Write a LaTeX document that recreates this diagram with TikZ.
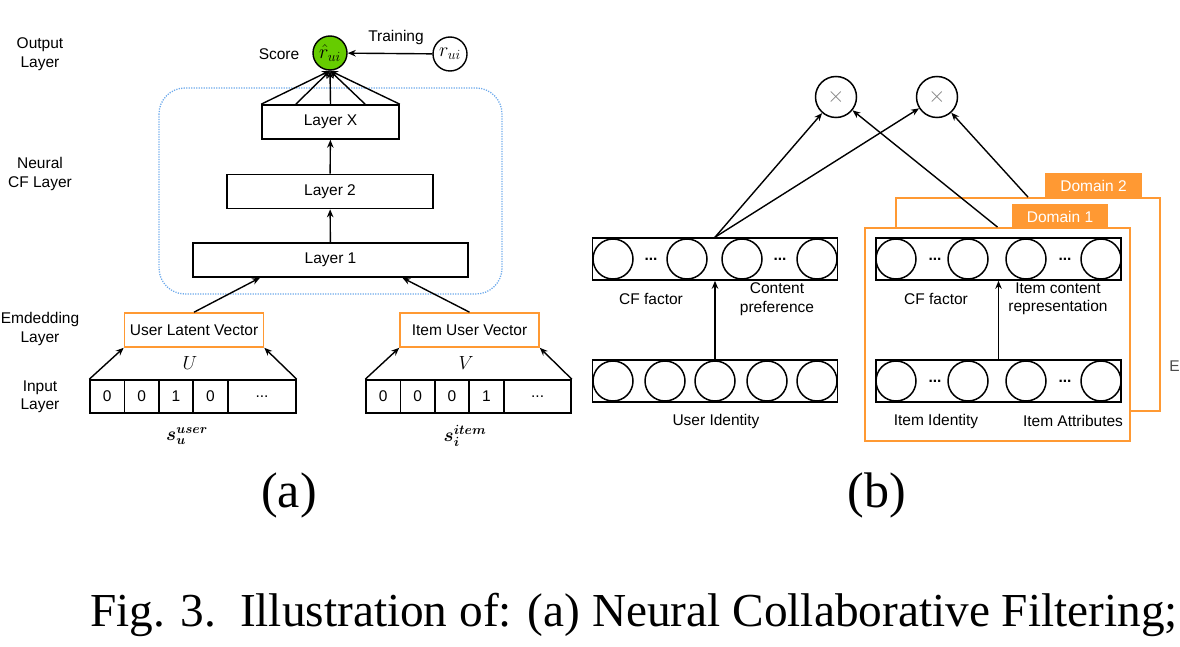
\RequirePackage{fix-cm}
\documentclass[tikz,border=0pt]{standalone}
\usepackage{bm}
\usepackage{fontspec}
\setmainfont{Liberation Sans}
\newfontfamily\capfont{Liberation Serif}
\usetikzlibrary{arrows.meta,calc}
\definecolor{grn}{RGB}{102,204,0}
\definecolor{org}{RGB}{255,153,51}
\definecolor{blu}{RGB}{110,170,235}

\begin{document}
\begin{tikzpicture}[x=1pt,y=-1pt,font=\fontsize{15.5}{18.5}\selectfont,
  every node/.style={inner sep=0pt},
  mathlbl/.style={font=\fontsize{19}{22}\selectfont},
  layer/.style={draw,line width=1.6pt,minimum height=34pt},
  embbox/.style={draw=org,line width=1.6pt,minimum width=139pt,minimum height=34pt},
  cell/.style={draw,line width=1.5pt,minimum width=34.4pt,minimum height=33pt},
  unit/.style={draw,circle,line width=1.5pt,minimum size=40pt},
  row/.style={draw,line width=1.6pt,minimum width=245pt,minimum height=42pt},
  dombox/.style={draw=org,fill=white,line width=1.8pt,minimum width=264pt,minimum height=213pt},
  tag/.style={fill=org,text=white,minimum width=97pt,minimum height=25pt},
  arr/.style={-{Stealth[length=8pt,width=6.5pt]},line width=1.4pt}]
  \useasboundingbox (0,0) rectangle (1180,647);

  % (a) neural collaborative filtering
  \node[align=center] (lbout) at (40,54) {Output\\Layer};
  \node[align=center] (lbncf) at (40,174) {Neural\\CF Layer};
  \node[align=center] (lbemb) at (40,329) {Emdedding\\Layer};
  \node[align=center] (lbin) at (40,397) {Input\\Layer};

  \draw[blu,line width=1.3pt,dash pattern=on 1.2pt off 1.3pt,rounded corners=26pt] (159,88) rectangle (502,294);

  \node[circle,draw,fill=grn,minimum size=34pt,line width=1.4pt,font=\fontsize{20}{24}\selectfont] (score) at (330,53) {$\hat{r}_{ui}$};
  \node[circle,draw,minimum size=34pt,line width=1.4pt,font=\fontsize{20}{24}\selectfont] (rui) at (450,54) {$r_{ui}$};
  \node (lbscore) at (279,54) {Score};
  \node (lbtrain) at (396,37) {Training};
  \draw[arr] (rui) -- (score);

  \node[layer,minimum width=137pt] (lx) at (330.5,122) {Layer X};
  \node[layer,minimum width=206pt] (l2) at (330,191.5) {Layer 2};
  \node[layer,minimum width=275pt] (l1) at (330.5,260) {Layer 1};
  \foreach \f in {0,0.25,0.5,0.75,1}
    \draw[arr] ($(lx.north west)!\f!(lx.north east)$) -- (score.south);
  \draw[arr] (l1) -- (l2);
  \draw[arr] (l2) -- (lx);

  \node[embbox] (ulat) at (194,330) {User Latent Vector};
  \node[embbox] (ilat) at (469.5,330) {Item User Vector};
  \draw[arr] (ulat.north) -- ($(l1.south west)!0.245!(l1.south east)$);
  \draw[arr] (ilat.north) -- ($(l1.south west)!0.76!(l1.south east)$);

  \foreach \v [count=\i] in {0,0,1,0}
    \node[cell] (u\i) at ({72.8+34.4*\i},396.5) {\v};
  \node[cell,minimum width=68pt] (udots) at (262,396.5) {...};
  \foreach \v [count=\i] in {0,0,0,1}
    \node[cell] (i\i) at ({348.8+34.4*\i},396.5) {\v};
  \node[cell,minimum width=67pt] (idots) at (537.6,396.5) {...};
  \draw[arr] (u1.north west) -- (ulat.south west);
  \draw[arr] (udots.north east) -- (ulat.south east);
  \draw[arr] (i1.north west) -- (ilat.south west);
  \draw[arr] (idots.north east) -- (ilat.south east);
  \node[mathlbl] (lbu) at (190,363) {$U$};
  \node[mathlbl] (lbv) at (466,363) {$V$};
  \node[mathlbl] (su) at (187,436) {$\bm{s_u^{user}}$};
  \node[mathlbl] (si) at (465,436) {$\bm{s_i^{item}}$};

  % (b) cross-domain
  \node[unit,minimum size=41pt,font=\fontsize{22}{26}\selectfont] (m1) at (836,97) {\textcolor{gray}{$\times$}};
  \node[unit,minimum size=41pt,font=\fontsize{22}{26}\selectfont] (m2) at (937,97) {\textcolor{gray}{$\times$}};

  \node[row] (utop) at (715,259) {};
  \foreach \x [count=\i] in {613,687,742,817}
    \node[unit] (ut\i) at (\x,259) {};
  \node (utd1) at (651,259) {\textbf{...}};
  \node (utd2) at (780,259) {\textbf{...}};
  \node[row] (ubot) at (715,381) {};
  \foreach \x [count=\i] in {613,665,715,767,817}
    \node[unit] (ub\i) at (\x,381) {};
  \draw[arr] (ubot) -- (utop);
  \node (lbcf1) at (651,299) {CF factor};
  \node[align=center] (lbcp) at (777,299) {Content\\preference};
  \node (lbuid) at (716,421) {User Identity};

  \node[dombox] (dom2) at (1028,304.5) {};
  \node[tag] (tag2) at (1093.5,185.5) {Domain 2};
  \node[dombox,minimum width=265pt] (dom1) at (997.5,334.5) {};
  \node[tag,minimum width=96pt] (tag1) at (1060,216.5) {Domain 1};

  \node[row] (itop) at (998.5,259) {};
  \node[row] (ibot) at (998.5,381) {};
  \foreach \x [count=\i] in {896,968,1026,1101} {
    \node[unit] (it\i) at (\x,259) {};
    \node[unit] (ib\i) at (\x,381) {};
  }
  \foreach \x [count=\i] in {935,1065} {
    \node (itd\i) at (\x,259) {\textbf{...}};
    \node (ibd\i) at (\x,381) {\textbf{...}};
  }
  \draw[arr] (ibot) -- (itop);
  \node (lbcf2) at (936,299) {CF factor};
  \node[align=center] (lbicr) at (1058,299) {Item content\\representation};
  \node (lbiid) at (936,421) {Item Identity};
  \node (lbiat) at (1073,421) {Item Attributes};
  \node[text=black!70,anchor=east] (lbcut) at (1180,366) {E};

  \draw[arr] (utop.north) -- (m1);
  \draw[arr] (utop.north) -- (m2);
  \draw[arr] (dom1.north) -- (m1);
  \draw[arr] (dom2.north) -- (m2);

  % labels and caption
  \node[font=\capfont\fontsize{50}{60}\selectfont] (suba) at (289,495) {(a)};
  \node[font=\capfont\fontsize{50}{60}\selectfont] (subb) at (877,495) {(b)};
  \node[font=\capfont\fontsize{47.3}{56}\selectfont,anchor=base west] (cap) at (90,626)
    {Fig. 3.\ \ Illustration of: (a) Neural Collaborative Filtering;};
\end{tikzpicture}
\end{document}
